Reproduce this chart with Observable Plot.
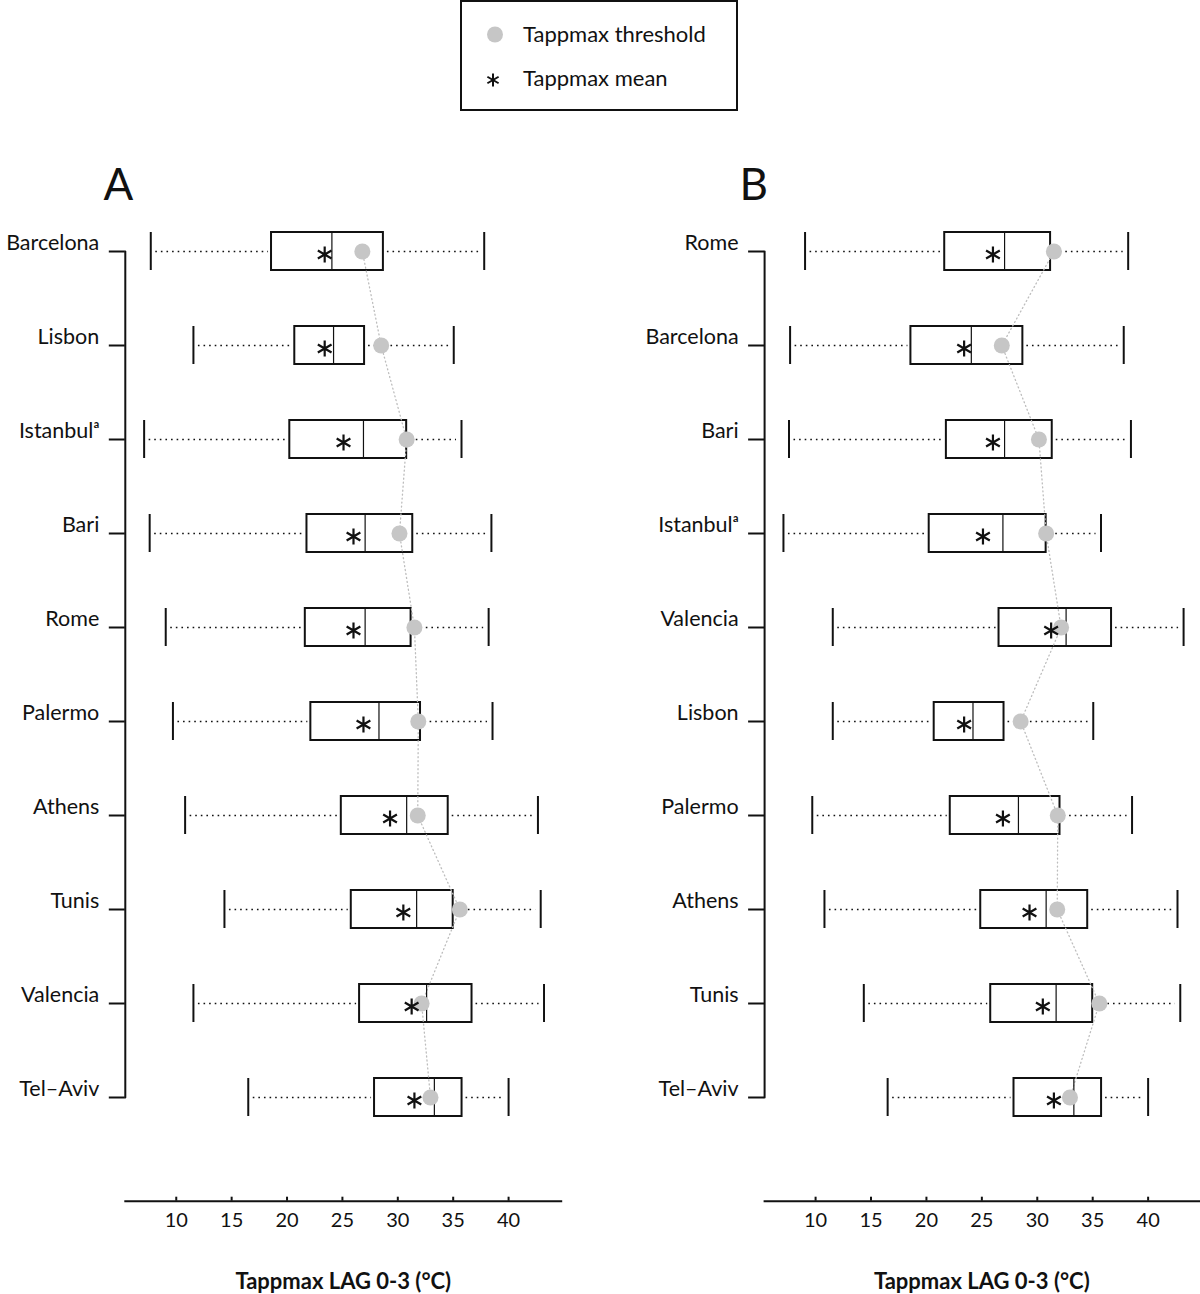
<!DOCTYPE html>
<html>
<head>
<meta charset="utf-8">
<script src="https://cdn.jsdelivr.net/npm/d3@7"></script>
<script src="https://cdn.jsdelivr.net/npm/@observablehq/plot@0.6"></script>
<style>
  body { margin: 0; background: #fff; font-family: Lato, sans-serif; }
  #wrap { position: relative; width: 1200px; height: 1294px; overflow: hidden; background: #fff; }
  #legend { position: absolute; left: 460px; top: 0; }
  #plots { position: absolute; left: 0; top: 120px; display: flex; flex-direction: row; }
  #plots svg { display: block; overflow: visible; }
</style>
</head>
<body>
<div id="wrap">
  <div id="legend"></div>
  <div id="plots"></div>
</div>
<script>
// ---- data (panel A order: sorted by mean) ----
const cities = ["Barcelona", "Lisbon", "Istanbul", "Bari", "Rome", "Palermo", "Athens", "Tunis", "Valencia", "Tel\u2013Aviv"];
// panel B order (north to south)
const orderB = ["Rome", "Barcelona", "Bari", "Istanbul", "Valencia", "Lisbon", "Palermo", "Athens", "Tunis", "Tel\u2013Aviv"];
const minV    = [7.7, 11.55, 7.1, 7.6, 9.05, 9.7, 10.8, 14.35, 11.55, 16.5];
const q1V     = [18.6, 20.7, 20.25, 21.8, 21.65, 22.15, 24.9, 25.8, 26.55, 27.9];
const medianV = [24.05, 24.2, 26.9, 27.05, 27.05, 28.3, 30.8, 31.7, 32.6, 33.3];
const q3V     = [28.7, 27.0, 30.8, 31.35, 31.2, 32.05, 34.55, 35.0, 36.7, 35.8];
const maxV    = [37.8, 35.05, 35.75, 38.45, 38.2, 38.55, 42.65, 42.9, 43.2, 40.0];
const meanV   = [23.4, 23.4, 25.1, 26.0, 26.0, 26.9, 29.3, 30.5, 31.25, 31.5];
const thrV    = [26.8, 28.5, 30.8, 30.15, 31.5, 31.85, 31.8, 35.6, 32.15, 32.95];
const xTicks  = [10, 15, 20, 25, 30, 35, 40];
const axisTitle = "Tappmax LAG 0-3 (\u00B0C)";
const legendLabels = ["Tappmax threshold", "Tappmax mean"];
const panelLetters = ["A", "B"];

const rows = cities.map((c, i) => ({
  city: c, min: minV[i], q1: q1V[i], median: medianV[i], q3: q3V[i],
  max: maxV[i], mean: meanV[i], thr: thrV[i]
}));
const labelOf = c => c === "Istanbul" ? "Istanbul\u1D43" : c;

function panel(order, letter, o) {
  const data = order.map(c => rows.find(r => r.city === c));
  return Plot.plot({
    width: 600,
    height: 1174,
    marginLeft: o.ml,
    marginRight: o.mr,
    marginTop: 20,
    marginBottom: 93.3,
    style: { fontFamily: "Lato, sans-serif", color: "#111", background: "transparent", overflow: "visible" },
    x: { domain: o.xd, axis: null },
    y: { type: "band", domain: order, range: [82.1, 1026.2], paddingInner: 0.597, paddingOuter: 0.2985, axis: null },
    marks: [
      Plot.frame({ anchor: "bottom", strokeWidth: 2, stroke: "#111" }),
      Plot.axisX({ ticks: xTicks, tickSize: 0, tickPadding: 12, fontSize: 20, label: null }),
      Plot.axisX({ ticks: xTicks, tickSize: 4, dy: -4, tickFormat: () => "", label: null, strokeWidth: 2 }),
      Plot.axisY({ tickSize: 16, tickFormat: () => "", label: null, strokeWidth: 2 }),
      Plot.axisY({ tickSize: 0, tickPadding: 26, dy: -8, fontSize: 21.5, tickFormat: labelOf, label: null }),
      Plot.line([order[0], order[order.length - 1]], { x: () => o.xd[0], y: d => d, strokeWidth: 2, stroke: "#111" }),
      Plot.ruleY(data, { y: "city", x1: "min", x2: "q1", insetLeft: 5, insetRight: 3, strokeDasharray: "1.6,4", strokeWidth: 1.7, stroke: "#111" }),
      Plot.ruleY(data, { y: "city", x1: "q3", x2: "max", insetLeft: 4, insetRight: 5, strokeDasharray: "1.6,4", strokeWidth: 1.7, stroke: "#111" }),
      Plot.barX(data, { y: "city", x1: "q1", x2: "q3", fill: "white", stroke: "#111", strokeWidth: 2 }),
      Plot.line(data, { x: "thr", y: "city", stroke: "#bdbdbd", strokeDasharray: "1,3", strokeWidth: 1.3 }),
      Plot.tickX(data, { y: "city", x: "median", strokeWidth: 1.2, stroke: "#111" }),
      Plot.tickX(data, { y: "city", x: "min", strokeWidth: 2, stroke: "#111" }),
      Plot.tickX(data, { y: "city", x: "max", strokeWidth: 2, stroke: "#111" }),
      Plot.dot(data, { y: "city", x: "thr", r: 8, fill: "#c6c6c6" }),
      Plot.dot(data, { y: "city", x: "mean", symbol: "asterisk", r: 7.5, stroke: "#111", strokeWidth: 2.2, dy: 3 }),
      Plot.text([letter], { frameAnchor: "top-left", lineAnchor: "middle", dx: o.ldx, dy: 45, fontSize: 44, textAnchor: "middle", fill: "#111" }),
      Plot.text([axisTitle], { frameAnchor: "bottom", lineAnchor: "middle", dy: 81, fontSize: 22, fontWeight: "bold", fill: "#111" })
    ]
  });
}

const host = document.getElementById("plots");
host.appendChild(panel(cities, panelLetters[0], { ml: 124.8, mr: 39.3, xd: [5.4, 44.75], ldx: -7 }));
host.appendChild(panel(orderB, panelLetters[1], { ml: 164.1, mr: 1.5, xd: [5.4, 44.59], ldx: -11 }));

// ---- legend ----
const ns = "http://www.w3.org/2000/svg";
const lg = document.createElementNS(ns, "svg");
lg.setAttribute("width", 278);
lg.setAttribute("height", 111);
lg.innerHTML = `
  <rect x="1" y="1" width="276" height="109" fill="white" stroke="#111" stroke-width="2"/>
  <circle cx="35" cy="34.5" r="8" fill="#c6c6c6"/>
  <g stroke="#111" stroke-width="2" transform="translate(33,80)">
    <line x1="0" y1="-6.5" x2="0" y2="6.5"/>
    <line x1="-5.6" y1="-3.25" x2="5.6" y2="3.25"/>
    <line x1="-5.6" y1="3.25" x2="5.6" y2="-3.25"/>
  </g>
  <text x="63" y="34.5" dy="0.35em" font-size="22" font-family="Lato, sans-serif" fill="#111">${legendLabels[0]}</text>
  <text x="63" y="78" dy="0.35em" font-size="22" font-family="Lato, sans-serif" fill="#111">${legendLabels[1]}</text>`;
document.getElementById("legend").appendChild(lg);
</script>
</body>
</html>
